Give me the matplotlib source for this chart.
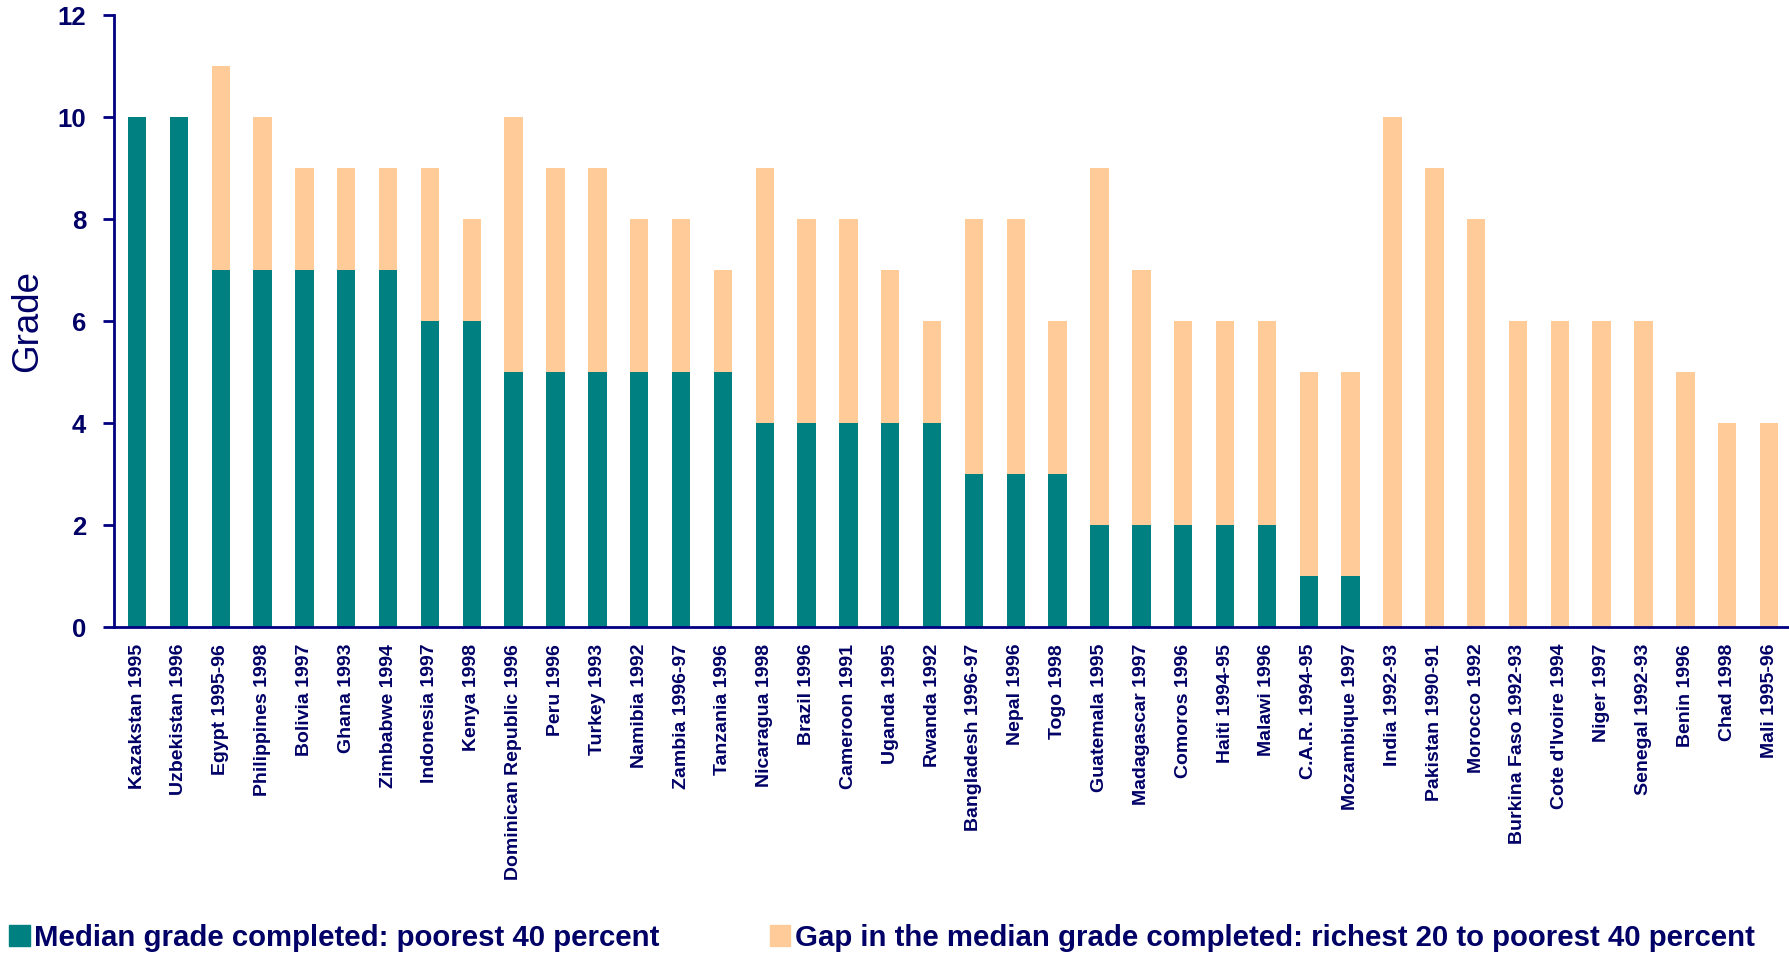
import matplotlib.pyplot as plt
from matplotlib.patches import Patch

# countries / survey years, in the order shown
countries = ['Kazakstan 1995', 'Uzbekistan 1996', 'Egypt 1995-96', 'Philippines 1998',
             'Bolivia 1997', 'Ghana 1993', 'Zimbabwe 1994', 'Indonesia 1997', 'Kenya 1998',
             'Dominican Republic 1996', 'Peru 1996', 'Turkey 1993', 'Namibia 1992',
             'Zambia 1996-97', 'Tanzania 1996', 'Nicaragua 1998', 'Brazil 1996',
             'Cameroon 1991', 'Uganda 1995', 'Rwanda 1992', 'Bangladesh 1996-97',
             'Nepal 1996', 'Togo 1998', 'Guatemala 1995', 'Madagascar 1997', 'Comoros 1996',
             'Haiti 1994-95', 'Malawi 1996', 'C.A.R. 1994-95', 'Mozambique 1997',
             'India 1992-93', 'Pakistan 1990-91', 'Morocco 1992', 'Burkina Faso 1992-93',
             "Cote d'Ivoire 1994", 'Niger 1997', 'Senegal 1992-93', 'Benin 1996',
             'Chad 1998', 'Mali 1995-96']

# median grade completed by the poorest 40 percent
poorest40 = [10, 10, 7, 7, 7, 7, 7, 6, 6, 5, 5, 5, 5, 5, 5, 4, 4, 4, 4, 4,
             3, 3, 3, 2, 2, 2, 2, 2, 1, 1, 0, 0, 0, 0, 0, 0, 0, 0, 0, 0]

# gap between richest 20 and poorest 40 percent
gap = [0, 0, 4, 3, 2, 2, 2, 3, 2, 5, 4, 4, 3, 3, 2, 5, 4, 4, 3, 2,
       5, 5, 3, 7, 5, 4, 4, 4, 4, 4, 10, 9, 8, 6, 6, 6, 6, 5, 4, 4]

teal = '#008080'
peach = '#FFCC99'
navy = '#000066'

fig = plt.figure(figsize=(17.9, 9.56), dpi=100)
ax = fig.add_axes([0.0637, 0.344, 0.9363, 0.640])

x = range(len(countries))
ax.bar(x, poorest40, width=0.44, color=teal)
ax.bar(x, gap, width=0.44, bottom=poorest40, color=peach)

ax.set_xlim(-0.55, len(countries) - 0.5)
ax.set_ylim(0, 12)
ax.set_yticks([0, 2, 4, 6, 8, 10, 12])

ax.set_xticks(list(x))
ax.set_xticklabels(countries, rotation=90, fontsize=14, fontweight='bold',
                   color=navy, family='Liberation Sans')
ax.tick_params(axis='x', length=0, pad=12)
ax.tick_params(axis='y', length=8, width=2, color='#000080', pad=12,
               labelsize=18.5, labelcolor=navy)
for lbl in ax.get_yticklabels():
    lbl.set_fontweight('bold')
    lbl.set_family('Liberation Sans')

for s in ['top', 'right']:
    ax.spines[s].set_visible(False)
for s in ['left', 'bottom']:
    ax.spines[s].set_color('#000080')
    ax.spines[s].set_linewidth(2)

ax.set_ylabel('Grade', fontsize=26.5, color=navy, family='Liberation Sans')
ax.yaxis.set_label_coords(-0.041, 0.5)

# legend along the bottom
leg_font = {'family': 'Liberation Sans', 'weight': 'bold', 'size': 21.2}
l1 = fig.legend(handles=[Patch(color=teal, label='Median grade completed: poorest 40 percent')],
                loc='center left', bbox_to_anchor=(0.005, 0.019), frameon=False,
                prop=leg_font, handlelength=0.7, handleheight=0.7, handletextpad=0.15,
                borderaxespad=0, borderpad=0)
l2 = fig.legend(handles=[Patch(color=peach, label='Gap in the median grade completed: richest 20 to poorest 40 percent')],
                loc='center left', bbox_to_anchor=(0.43, 0.019), frameon=False,
                prop=leg_font, handlelength=0.7, handleheight=0.7, handletextpad=0.15,
                borderaxespad=0, borderpad=0)
for t in l1.get_texts() + l2.get_texts():
    t.set_color(navy)

fig.savefig('out.png', dpi=100)
